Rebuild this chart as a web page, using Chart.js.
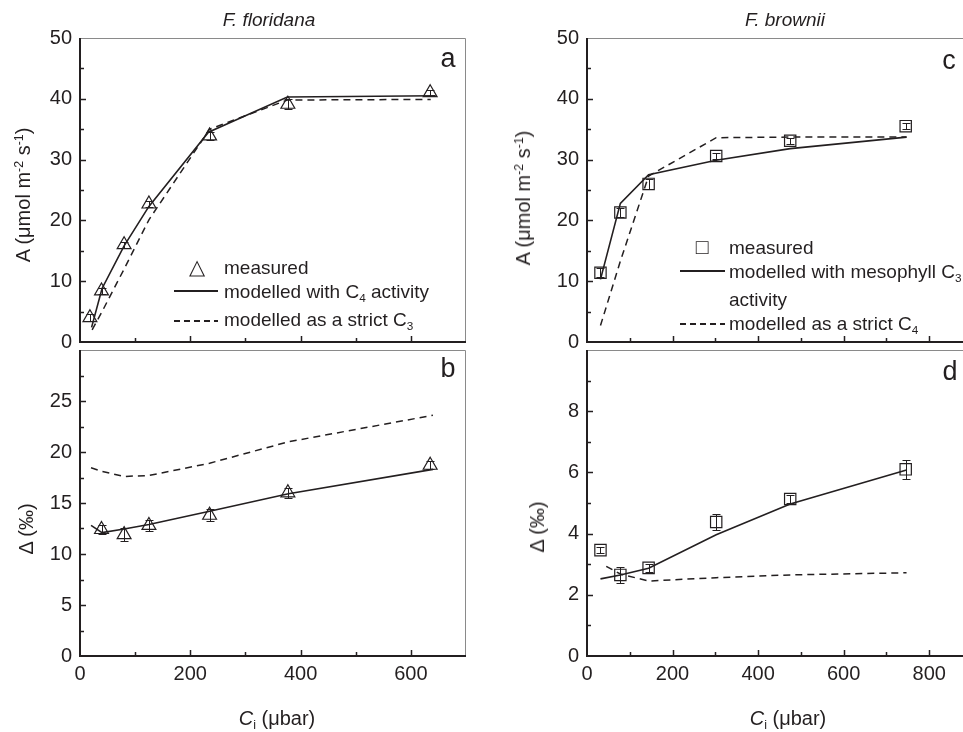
<!DOCTYPE html>
<html>
<head>
<meta charset="utf-8">
<script src="https://cdn.jsdelivr.net/npm/chart.js@4.4.1/dist/chart.umd.min.js"></script>
<style>
    html, body { margin: 0; padding: 0; background: #fff; overflow: hidden; width: 963px; height: 732px; }
    #wrap { position: relative; width: 963px; height: 732px; font-family: "Liberation Sans", Arial, sans-serif; color: #231f20; overflow: hidden; }
    canvas { position: absolute; }
    .t { position: absolute; white-space: nowrap; line-height: 1; }
    .c { transform: translate(-50%, -50%); }
    .rot { transform: translate(-50%, -50%) rotate(-90deg); }
    .lg { font-size: 19px; transform: translateY(-50%); }
    .ln { position: absolute; height: 1.6px; background: #231f20; }
    .ln.d { background: repeating-linear-gradient(to right, #231f20 0 6px, transparent 6px 10px); }
    sub { font-size: 0.62em; vertical-align: -0.35em; line-height: 0; }
    sup { font-size: 0.62em; vertical-align: 0.6em; line-height: 0; }
</style>
</head>
<body>
<div id="wrap">
    <canvas id="cb" width="480" height="402" style="left:0;top:330px"></canvas>
    <canvas id="ca" width="480" height="362" style="left:0;top:0"></canvas>
    <canvas id="cd" width="520" height="402" style="left:480px;top:330px"></canvas>
    <canvas id="cc" width="520" height="362" style="left:480px;top:0"></canvas>

    <div class="t c" style="left:269px;top:19px;font-size:19px;font-style:italic">F. floridana</div>
    <div class="t c" style="left:785px;top:19px;font-size:19px;font-style:italic">F. brownii</div>

    <div class="t rot" style="left:23px;top:195px;font-size:20px">A (μmol m<sup>-2</sup> s<sup>-1</sup>)</div>
    <div class="t rot" style="left:523px;top:198px;font-size:20px">A (μmol m<sup>-2</sup> s<sup>-1</sup>)</div>
    <div class="t rot" style="left:26px;top:529px;font-size:20px">Δ (‰)</div>
    <div class="t rot" style="left:537px;top:527px;font-size:20px">Δ (‰)</div>

    <div class="t c" style="left:277px;top:718px;font-size:20px"><i>C</i><sub>i</sub> (μbar)</div>
    <div class="t c" style="left:788px;top:718px;font-size:20px"><i>C</i><sub>i</sub> (μbar)</div>

    <div class="t c" style="left:448px;top:58px;font-size:27px">a</div>
    <div class="t c" style="left:448px;top:368px;font-size:27px">b</div>
    <div class="t c" style="left:949px;top:60px;font-size:27px">c</div>
    <div class="t c" style="left:950px;top:371px;font-size:27px">d</div>

    <!-- legenda pannello a -->
    <div class="t c" style="left:197px;top:266px;font-size:21px">△</div>
    <div class="t lg" style="left:224px;top:267px">measured</div>
    <div class="ln" style="left:174px;top:290px;width:44px"></div>
    <div class="t lg" style="left:224px;top:291px">modelled with C<sub>4</sub> activity</div>
    <div class="ln d" style="left:174px;top:320px;width:44px"></div>
    <div class="t lg" style="left:224px;top:319px">modelled as a strict C<sub>3</sub></div>

    <!-- legenda pannello c -->
    <div class="t c" style="left:702px;top:246px;font-size:21px">□</div>
    <div class="t lg" style="left:729px;top:247px">measured</div>
    <div class="ln" style="left:680px;top:270px;width:45px"></div>
    <div class="t lg" style="left:729px;top:271px">modelled with mesophyll C<sub>3</sub></div>
    <div class="t lg" style="left:729px;top:299px">activity</div>
    <div class="ln d" style="left:680px;top:323px;width:45px"></div>
    <div class="t lg" style="left:729px;top:323px">modelled as a strict C<sub>4</sub></div>
</div>

<script>
// F. floridana - pannello a (assimilazione)
const floCi = [18, 39, 80, 125, 235, 377, 635];
const floA = [4.0, 8.4, 16.0, 22.7, 33.9, 39.1, 41.0];
const floAErr = [0.6, 0.5, 0.5, 0.5, 0.7, 0.8, 0.5];
const floModelCiA = [21, 40, 80, 125, 233, 376, 645];
const floModelA = [2.4, 8.8, 15.8, 22.3, 34.5, 40.3, 40.5];
const floStrictCiA = [22, 40, 80, 125, 235, 376, 636];
const floStrictA = [2.0, 5.0, 12.0, 20.1, 35.0, 39.8, 39.9];

// F. floridana - pannello b (discriminazione)
const floDeltaCi = [39, 80, 125, 235, 377, 635];
const floDelta = [12.4, 11.9, 12.8, 13.8, 16.0, 18.7];
const floDeltaErr = [0.4, 0.6, 0.5, 0.6, 0.5, 0.4];
const floModelCiD = [20, 40, 80, 125, 235, 378, 640];
const floModelD = [12.8, 12.1, 12.45, 12.9, 14.2, 15.9, 18.3];
const floStrictD = [18.45, 18.1, 17.6, 17.7, 18.9, 21.0, 23.6];

// F. brownii - pannello c
const broCi = [31.5, 78, 144, 302, 475, 745];
const broA = [11.4, 21.3, 26.0, 30.6, 33.1, 35.5];
const broAErr = [0.7, 0.8, 0.8, 0.5, 0.5, 0.5];
const broModelCi = [31.5, 78, 144, 302, 475, 747];
const broModelA = [10.3, 22.8, 27.5, 29.9, 31.8, 33.7];
const broStrictA = [2.7, 13.3, 27.3, 33.6, 33.7, 33.7];

// F. brownii - pannello d
const broDelta = [3.46, 2.65, 2.88, 4.38, 5.13, 6.1];
const broDeltaErr = [0.1, 0.27, 0.12, 0.27, 0.12, 0.3];
const broModelD = [2.52, 2.65, 2.87, 3.96, 4.97, 6.08];
const broStrictCiD = [45, 78, 144, 302, 475, 747];
const broStrictD = [2.93, 2.68, 2.45, 2.56, 2.65, 2.72];

const INK = "#231f20";
const tickFont = { family: "Liberation Sans", size: 20 };

function pts(xs, ys) {
    return xs.map((x, i) => ({ x: x, y: ys[i] }));
}

// assi in stile Origin: tacche verso l'interno, bordo superiore/destro grigio
const framePlugin = {
    id: "frame",
    afterDraw(chart, args, opts) {
        const { ctx, chartArea: a, scales: { x, y } } = chart;
        ctx.save();
        ctx.strokeStyle = "#8a8a8a";
        ctx.lineWidth = 1;
        ctx.beginPath();
        ctx.moveTo(a.left, a.top + 0.5);
        ctx.lineTo(a.right - 0.5, a.top + 0.5);
        ctx.lineTo(a.right - 0.5, a.bottom);
        ctx.stroke();

        ctx.strokeStyle = INK;
        ctx.lineWidth = 1.5;
        ctx.beginPath();
        for (let v = x.min + opts.xMinor; v < x.max - 1e-6; v += opts.xMinor) {
            const px = Math.round(x.getPixelForValue(v)) + 0.5;
            const major = Math.abs(v / opts.xMajor - Math.round(v / opts.xMajor)) < 1e-6;
            ctx.moveTo(px, a.bottom);
            ctx.lineTo(px, a.bottom - (major ? 6 : 4));
        }
        for (let v = y.min + opts.yMinor; v < y.max - 1e-6; v += opts.yMinor) {
            const py = Math.round(y.getPixelForValue(v)) + 0.5;
            const major = Math.abs(v / opts.yMajor - Math.round(v / opts.yMajor)) < 1e-6;
            ctx.moveTo(a.left, py);
            ctx.lineTo(a.left + (major ? 6 : 4), py);
        }
        ctx.stroke();

        ctx.lineWidth = 2;
        ctx.beginPath();
        ctx.moveTo(a.left, a.top);
        ctx.lineTo(a.left, a.bottom);
        ctx.lineTo(a.right, a.bottom);
        ctx.stroke();
        ctx.restore();
    }
};

// barre d'errore sui punti misurati (dataset 0)
const errPlugin = {
    id: "errbars",
    afterDatasetsDraw(chart, args, opts) {
        if (!opts.err) return;
        const { ctx, scales: { x, y } } = chart;
        const data = chart.data.datasets[0].data;
        ctx.save();
        ctx.strokeStyle = INK;
        ctx.lineWidth = 1;
        ctx.beginPath();
        data.forEach((p, i) => {
            const px = Math.round(x.getPixelForValue(p.x)) + 0.5;
            const top = Math.round(y.getPixelForValue(p.y + opts.err[i])) + 0.5;
            const bot = Math.round(y.getPixelForValue(p.y - opts.err[i])) + 0.5;
            ctx.moveTo(px, top); ctx.lineTo(px, bot);
            ctx.moveTo(px - 4, top); ctx.lineTo(px + 4, top);
            ctx.moveTo(px - 4, bot); ctx.lineTo(px + 4, bot);
        });
        ctx.stroke();
        ctx.restore();
    }
};

function makePanel(id, p) {
    return new Chart(document.getElementById(id), {
        type: "scatter",
        data: {
            datasets: [
                {
                    data: p.measured,
                    pointStyle: p.marker,
                    pointRadius: p.marker === "triangle" ? 8 : 8,
                    borderColor: INK,
                    backgroundColor: "rgba(0,0,0,0)",
                    borderWidth: 1.2,
                    showLine: false
                },
                {
                    data: p.model,
                    showLine: true,
                    borderColor: INK,
                    borderWidth: 1.6,
                    pointRadius: 0,
                    tension: 0
                },
                {
                    data: p.strict,
                    showLine: true,
                    borderColor: INK,
                    borderWidth: 1.5,
                    borderDash: [7, 5],
                    pointRadius: 0,
                    tension: 0
                }
            ]
        },
        options: {
            responsive: false,
            animation: false,
            layout: { padding: p.pad },
            plugins: {
                legend: { display: false },
                tooltip: { enabled: false },
                frame: { xMinor: p.xStep / 2, xMajor: p.xStep, yMinor: p.yStep / 2, yMajor: p.yStep },
                errbars: { err: p.err }
            },
            scales: {
                x: {
                    type: "linear",
                    min: 0,
                    max: p.xMax,
                    grid: { display: false, drawTicks: false },
                    border: { display: false },
                    ticks: {
                        display: p.xLabels,
                        stepSize: p.xStep,
                        includeBounds: false,
                        autoSkip: false,
                        maxRotation: 0,
                        padding: 6,
                        color: INK,
                        font: tickFont
                    },
                    afterFit: s => { s.height = p.xLabels ? 40 : 0; }
                },
                y: {
                    type: "linear",
                    min: 0,
                    max: p.yMax,
                    grid: { display: false, drawTicks: false },
                    border: { display: false },
                    ticks: {
                        stepSize: p.yStep,
                        autoSkip: false,
                        padding: 8,
                        color: INK,
                        font: tickFont,
                        callback: v => (p.hideTop && v === p.yMax ? "" : v)
                    },
                    afterFit: s => { s.width = 80; }
                }
            }
        },
        plugins: [framePlugin, errPlugin]
    });
}

makePanel("ca", {
    measured: pts(floCi, floA), err: floAErr, marker: "triangle",
    model: pts(floModelCiA, floModelA), strict: pts(floStrictCiA, floStrictA),
    xMax: 700, xStep: 200, yMax: 50, yStep: 10, xLabels: false, hideTop: false,
    pad: { left: 0, top: 38, right: 14, bottom: 17 }
});
makePanel("cb", {
    measured: pts(floDeltaCi, floDelta), err: floDeltaErr, marker: "triangle",
    model: pts(floModelCiD, floModelD), strict: pts(floModelCiD, floStrictD),
    xMax: 700, xStep: 200, yMax: 30, yStep: 5, xLabels: true, hideTop: true,
    pad: { left: 0, top: 17, right: 14, bottom: 36 }
});
makePanel("cc", {
    measured: pts(broCi, broA), err: broAErr, marker: "rect",
    model: pts(broModelCi, broModelA), strict: pts(broModelCi, broStrictA),
    xMax: 900, xStep: 200, yMax: 50, yStep: 10, xLabels: false, hideTop: false,
    pad: { left: 27, top: 38, right: 28, bottom: 17 }
});
makePanel("cd", {
    measured: pts(broCi, broDelta), err: broDeltaErr, marker: "rect",
    model: pts(broModelCi, broModelD), strict: pts(broStrictCiD, broStrictD),
    xMax: 900, xStep: 200, yMax: 10, yStep: 2, xLabels: true, hideTop: true,
    pad: { left: 27, top: 17, right: 28, bottom: 36 }
});
</script>
</body>
</html>
